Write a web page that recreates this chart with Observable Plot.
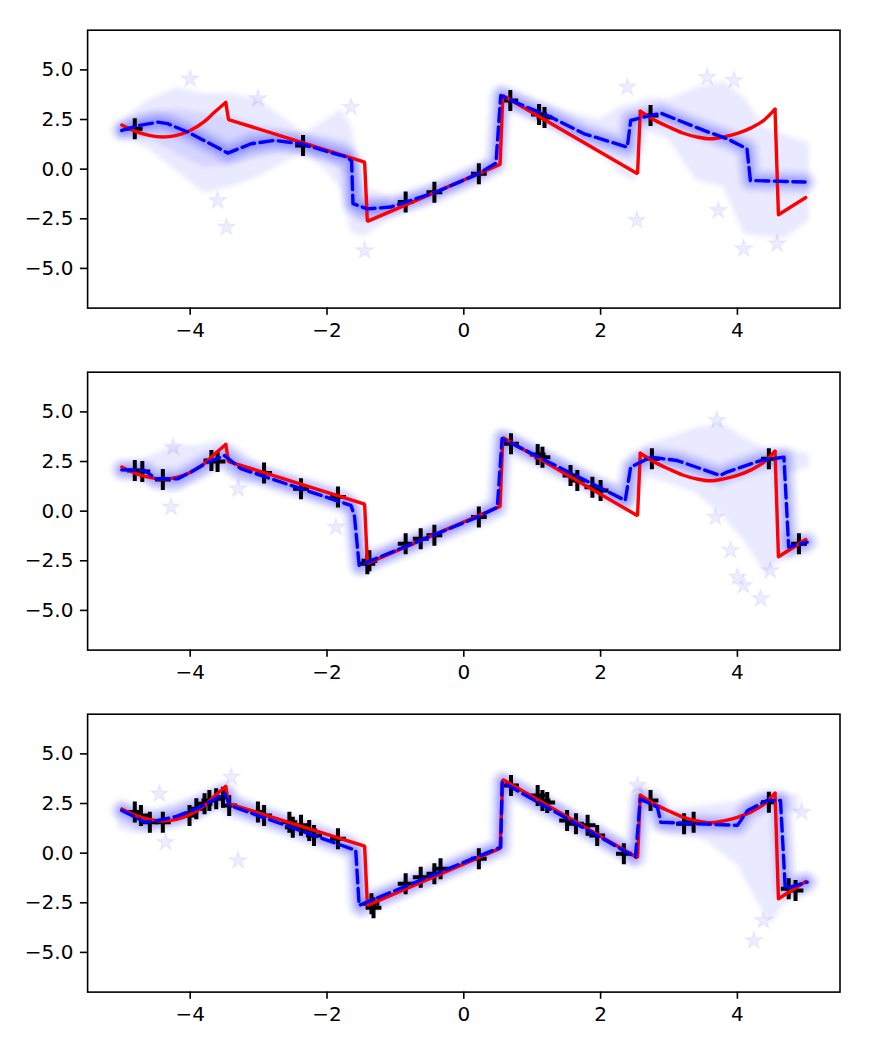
<!DOCTYPE html>
<html><head><meta charset="utf-8">
<script src="https://cdn.jsdelivr.net/npm/d3@7"></script>
<script src="https://cdn.jsdelivr.net/npm/@observablehq/plot@0.6"></script>
<style>
body{margin:0;background:#fff;}
#chart{width:869px;height:1050px;background:#fff;}
svg{display:block;}
</style>
</head><body><div id="chart"></div>
<script>
// ---- tick labels ----
const xTicks = [-4, -2, 0, 2, 4];
const yTicks = [-5, -2.5, 0, 2.5, 5];

// ---- true function (red), same in all panels ----
const trueCurveLeft = [[-5.0,2.22],[-4.8,1.9],[-4.6,1.7],[-4.4,1.62],[-4.2,1.7],[-4.0,1.95],[-3.8,2.38],[-3.65,2.85],[-3.48,3.36]];
const trueLinear = [[-3.48,3.36],[-3.44,2.5],[-1.45,0.35],[-1.41,-2.63],[0.53,0.24],[0.57,3.71],[2.54,-0.23],[2.58,2.92]];
const trueCurveRight = [[2.58,2.92],[2.8,2.45],[3.0,2.12],[3.2,1.82],[3.4,1.63],[3.6,1.53],[3.8,1.63],[4.0,1.8],[4.2,2.08],[4.4,2.5],[4.55,3.02]];
const trueTail = [[4.55,3.02],[4.6,-2.3],[5.0,-1.43]];

// ---- posterior means (blue dashed) ----
const p1Mean = [[-5.0,1.95],[-4.75,2.2],[-4.47,2.37],[-4.33,2.29],[-4.03,1.86],[-3.45,0.81],[-3.11,1.28],[-2.77,1.45],[-2.38,1.28],[-1.89,0.78],[-1.7,0.6],[-1.64,0.4],[-1.62,-1.74],[-1.41,-2.0],[-1.07,-1.91],[-0.85,-1.66],[-0.4,-1.15],[0.2,-0.25],[0.47,0.3],[0.54,3.71],[0.8,3.3],[1.27,2.63],[1.76,1.78],[2.39,1.11],[2.44,2.45],[2.63,2.62],[2.88,2.82],[3.51,1.95],[3.85,1.53],[4.14,1.03],[4.19,-0.57],[4.99,-0.65]];
const p2Mean = [[-5.0,2.08],[-4.67,2.05],[-4.5,1.63],[-4.18,1.63],[-3.99,1.97],[-3.75,2.45],[-3.5,2.8],[-3.26,2.14],[-1.65,0.29],[-1.6,-0.2],[-1.53,-2.73],[-1.41,-2.57],[0.2,-0.3],[0.49,0.2],[0.56,3.65],[2.36,0.54],[2.44,2.22],[2.73,2.72],[3.12,2.55],[3.75,1.8],[3.85,1.97],[4.34,2.55],[4.68,2.72],[4.75,-1.81],[5.02,-1.56]];
const p3Mean = [[-5.0,2.15],[-4.66,1.56],[-4.47,1.65],[-4.2,1.85],[-3.9,2.25],[-3.49,2.99],[-3.42,2.4],[-1.58,0.14],[-1.53,-2.63],[0.54,0.3],[0.56,3.58],[2.51,-0.2],[2.58,2.74],[2.83,2.32],[2.88,1.56],[4.0,1.4],[4.15,2.15],[4.43,2.65],[4.63,2.65],[4.7,-1.79],[5.02,-1.46]];

// ---- training data (black crosses) ----
const p1Obs = [[-4.81,2.03],[-2.35,1.19],[-0.85,-1.66],[-0.43,-1.16],[0.22,-0.23],[0.68,3.46],[1.1,2.75],[1.18,2.6],[2.73,2.7]];
const p2Obs = [[-4.81,2.05],[-4.7,2.0],[-4.4,1.6],[-3.69,2.55],[-3.6,2.5],[-2.92,1.92],[-2.38,1.13],[-1.84,0.71],[-1.41,-2.65],[-1.38,-2.5],[-0.85,-1.64],[-0.63,-1.39],[-0.43,-1.22],[0.22,-0.3],[0.69,3.4],[1.08,2.85],[1.15,2.72],[1.56,1.8],[1.66,1.55],[1.88,1.21],[2.0,1.04],[2.75,2.64],[4.46,2.64],[4.9,-1.64]];
const p3Obs = [[-4.81,2.07],[-4.72,1.9],[-4.59,1.56],[-4.4,1.56],[-4.01,1.9],[-3.91,2.24],[-3.79,2.49],[-3.72,2.65],[-3.62,2.74],[-3.52,2.82],[-3.43,2.4],[-3.01,2.07],[-2.92,1.9],[-2.55,1.56],[-2.5,1.31],[-2.38,1.4],[-2.26,1.14],[-2.19,0.89],[-1.84,0.72],[-1.35,-2.55],[-1.32,-2.75],[-0.85,-1.54],[-0.63,-1.21],[-0.43,-1.04],[-0.34,-0.79],[0.22,-0.28],[0.69,3.41],[1.08,2.9],[1.15,2.65],[1.22,2.55],[1.51,1.65],[1.64,1.48],[1.81,1.4],[1.95,0.89],[2.34,-0.03],[2.73,2.65],[3.22,1.48],[3.36,1.56],[4.46,2.57],[4.75,-1.79],[4.85,-1.88]];

// ---- posterior sample clouds: [x, low, high] envelopes ----
const p1Cloud = [[-5.05,1.6,2.3],[-4.8,1.3,3.0],[-4.6,1.0,3.5],[-4.2,-0.1,4.1],[-3.8,-1.2,3.8],[-3.4,-0.9,3.8],[-3.0,-0.4,3.5],[-2.6,0.4,2.5],[-2.35,0.8,1.8],[-2.0,-0.1,2.5],[-1.8,-1.0,3.0],[-1.65,-3.2,2.2],[-1.45,-3.4,-0.9],[-1.2,-2.8,-1.2],[-1.0,-2.3,-1.4],[-0.6,-1.9,-1.0],[0.0,-0.9,-0.2],[0.45,-0.2,0.6],[0.52,-0.1,4.1],[0.65,3.0,4.1],[1.0,2.5,3.55],[1.5,1.6,2.9],[2.0,0.8,2.5],[2.3,-0.3,3.2],[2.5,-0.6,3.3],[2.7,1.9,3.6],[3.0,1.5,3.5],[3.4,-0.6,4.1],[3.8,-0.9,4.4],[4.1,-3.3,3.6],[4.4,-3.4,2.1],[4.7,-3.5,1.7],[5.05,-2.6,1.3]];
const p1CloudCore = [[-5.05,1.7,2.2],[-4.6,1.5,2.9],[-4.2,0.8,3.0],[-3.8,0.1,2.8],[-3.4,0.2,2.6],[-3.0,0.6,2.2],[-2.6,0.9,1.9],[-2.0,0.5,1.6],[-1.7,-0.3,1.4],[-1.6,-2.6,0.6],[-1.45,-2.7,-1.4],[-1.1,-2.3,-1.5]];
const p2Cloud = [[-5.05,1.7,2.4],[-4.7,1.5,2.6],[-4.5,1.1,2.9],[-4.25,0.9,3.3],[-3.9,1.5,3.3],[-3.55,2.1,3.6],[-3.3,1.4,3.2],[-3.0,1.4,2.4],[-2.5,0.9,1.8],[-1.9,0.3,1.3],[-1.68,-0.2,1.0],[-1.58,-3.2,0.6],[-1.45,-3.3,-2.0],[-1.2,-2.7,-1.9],[-0.5,-1.7,-0.8],[0.0,-0.8,-0.2],[0.45,-0.1,0.5],[0.52,-0.1,4.0],[0.65,3.1,4.0],[1.2,2.2,3.1],[2.0,0.7,1.6],[2.35,0.1,1.3],[2.45,0.1,2.9],[2.7,1.7,3.4],[3.0,1.4,3.7],[3.4,0.9,4.2],[3.8,-0.3,4.4],[4.1,-1.5,3.7],[4.4,-3.1,3.2],[4.62,-2.6,3.1]];
const p2CloudUpper = [[4.62,1.9,3.1],[4.85,2.0,3.0],[5.05,2.2,2.9]];
const p2CloudLower = [[4.62,-2.6,-1.0],[4.85,-2.3,-1.2],[5.05,-2.0,-1.2]];
const p3Cloud = [[-5.05,1.2,2.5],[-4.8,1.0,2.4],[-4.5,1.2,2.2],[-4.0,1.5,2.8],[-3.5,2.4,3.6],[-3.2,1.8,2.7],[-2.5,1.0,1.9],[-1.8,0.2,1.1],[-1.62,-0.1,0.9],[-1.55,-3.3,0.6],[-1.4,-3.2,-2.1],[-1.0,-2.5,-1.6],[0.0,-0.9,-0.2],[0.48,-0.1,0.6],[0.53,-0.1,4.0],[0.65,3.1,4.0],[1.5,1.4,2.4],[2.45,-0.6,0.4],[2.53,-0.7,3.4],[2.65,2.3,3.3],[2.85,1.2,3.2],[3.0,0.9,2.2],[3.5,0.7,2.4],[4.0,-0.6,2.6],[4.3,-2.5,3.0],[4.5,-3.6,3.1],[4.66,-2.6,3.0]];
const p3CloudUpper = [[4.66,2.2,3.0],[4.9,2.0,2.9]];
const p3CloudLower = [[4.66,-2.6,-1.1],[5.05,-2.0,-1.1]];

// ---- isolated sample stars ----
const p1Stars = [[-3.47,-2.92],[-3.6,-1.58],[-4.0,4.55],[-3.01,3.55],[-1.45,-4.1],[-1.65,3.12],[2.39,4.13],[2.53,-2.58],[3.56,4.63],[3.95,4.47],[4.09,-4.0],[4.58,-3.76],[3.72,-2.08]];
const p2Stars = [[-4.28,0.2],[-3.3,1.13],[-1.87,-0.8],[-4.25,3.22],[3.7,4.57],[3.9,-1.98],[4.0,-3.32],[4.09,-3.74],[4.34,-4.41],[3.68,-0.3],[4.48,-2.99]];
const p3Stars = [[-3.3,-0.37],[-4.45,2.99],[-3.4,3.83],[-4.36,0.55],[4.24,-4.4],[4.38,-3.39],[4.94,2.07],[2.54,3.41]];

const panels = [
  {mean: p1Mean, obs: p1Obs, clouds: [p1Cloud, p1CloudCore], stars: p1Stars},
  {mean: p2Mean, obs: p2Obs, clouds: [p2Cloud, p2CloudUpper, p2CloudLower], stars: p2Stars},
  {mean: p3Mean, obs: p3Obs, clouds: [p3Cloud, p3CloudUpper, p3CloudLower], stars: p3Stars}
];

const plusSym = {
  draw(ctx, size) {
    const r = Math.sqrt(size / Math.PI), h = r * 0.75;
    ctx.moveTo(-h, 0); ctx.lineTo(h, 0);
    ctx.moveTo(0, -r); ctx.lineTo(0, r);
  }
};

const X = d => d[0], Y = d => d[1];
const root = document.getElementById("chart");
const CLOUD = "posterior samples";

panels.forEach((p, i) => {
  const marks = [];
  p.clouds.forEach(c => marks.push(Plot.areaY(c, {x: X, y1: d => d[1], y2: d => d[2], fill: "#0000ff", fillOpacity: 0.085, ariaDescription: CLOUD})));
  marks.push(Plot.line(p.mean, {x: X, y: Y, stroke: "#0000ff", strokeOpacity: 0.13, strokeWidth: 21, strokeLinejoin: "round", ariaDescription: CLOUD}));
  marks.push(Plot.line(p.mean, {x: X, y: Y, stroke: "#0000ff", strokeOpacity: 0.22, strokeWidth: 9, strokeLinejoin: "round", ariaDescription: CLOUD}));
  marks.push(Plot.dot(p.stars, {x: X, y: Y, symbol: "star", r: 5.5, fill: "#0000ff", fillOpacity: 0.07, stroke: "#0000ff", strokeOpacity: 0.05}));
  marks.push(Plot.dot(p.obs, {x: X, y: Y, symbol: plusSym, r: 10.5, fill: "none", stroke: "black", strokeWidth: 4}));
  marks.push(Plot.line(trueCurveLeft, {x: X, y: Y, stroke: "#ff0000", strokeWidth: 3.4, curve: "monotone-x"}));
  marks.push(Plot.line(trueLinear, {x: X, y: Y, stroke: "#ff0000", strokeWidth: 3.4, strokeLinejoin: "miter"}));
  marks.push(Plot.line(trueCurveRight, {x: X, y: Y, stroke: "#ff0000", strokeWidth: 3.4, curve: "monotone-x"}));
  marks.push(Plot.line(trueTail, {x: X, y: Y, stroke: "#ff0000", strokeWidth: 3.4}));
  marks.push(Plot.line(p.mean, {x: X, y: Y, stroke: "#0000ff", strokeWidth: 3.4, strokeDasharray: "13,5.5"}));
  marks.push(Plot.axisX({ticks: xTicks, tickSize: 7.2, tickPadding: 7, strokeWidth: 1.6, fontSize: 20, label: null, tickFormat: d3.format("d")}));
  marks.push(Plot.axisY({ticks: yTicks, tickSize: 7.2, tickPadding: 7, strokeWidth: 1.6, fontSize: 20, label: null, tickFormat: d3.format(".1f")}));
  marks.push(Plot.frame({stroke: "black", strokeWidth: 1.6}));

  const svg = Plot.plot({
    width: 869, height: 342,
    marginLeft: 87.1, marginRight: 29.5, marginTop: 29.7, marginBottom: 34.4,
    x: {domain: [-5.5, 5.5]},
    y: {domain: [-7, 7]},
    style: {fontFamily: "'DejaVu Sans', sans-serif", fontSize: "20px", background: "white", color: "black"},
    marks
  });
  const ns = "http://www.w3.org/2000/svg";
  const defs = document.createElementNS(ns, "defs");
  const filt = document.createElementNS(ns, "filter");
  filt.setAttribute("id", "cloudblur" + i);
  filt.setAttribute("filterUnits", "userSpaceOnUse");
  filt.setAttribute("x", "0"); filt.setAttribute("y", "0");
  filt.setAttribute("width", "869"); filt.setAttribute("height", "342");
  const gb = document.createElementNS(ns, "feGaussianBlur");
  gb.setAttribute("stdDeviation", "2.5");
  filt.appendChild(gb); defs.appendChild(filt);
  svg.appendChild(defs);
  svg.querySelectorAll(`[aria-description="${CLOUD}"]`).forEach(g => g.setAttribute("filter", `url(#cloudblur${i})`));
  root.appendChild(svg);
});
</script>
</body></html>
